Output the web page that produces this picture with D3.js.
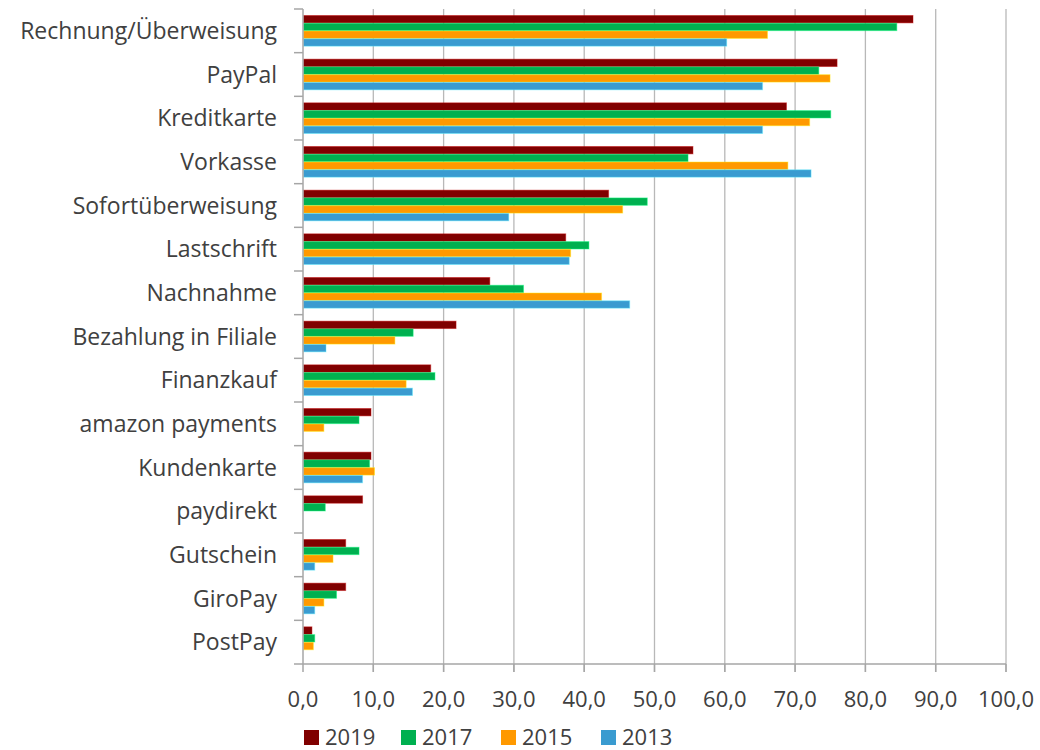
<!DOCTYPE html>
<html lang="de">
<head>
  <meta charset="UTF-8">
  <title>Zahlungsarten</title>
  <script src="https://d3js.org/d3.v7.min.js"></script>
  <style>
    body {
      margin: 0;
      background: white;
      font-family: "Open Sans", sans-serif;
    }
    .cat-label {
      font-size: 23px;
      fill: #404040;
    }
    .tick-label {
      font-size: 22px;
      fill: #404040;
    }
    .legend text {
      font-size: 22px;
      fill: #404040;
    }
  </style>
</head>
<body>
  <div id="chart"></div>

  <script>
    // Daten
    const categories = [
      "Rechnung/Überweisung", "PayPal", "Kreditkarte", "Vorkasse", "Sofortüberweisung",
      "Lastschrift", "Nachnahme", "Bezahlung in Filiale", "Finanzkauf", "amazon payments",
      "Kundenkarte", "paydirekt", "Gutschein", "GiroPay", "PostPay"
    ];
    const years = ["2019", "2017", "2015", "2013"];
    const values2019 = [86.7, 75.9, 68.7, 55.4, 43.4, 37.3, 26.5, 21.7, 18.1, 9.6, 9.6, 8.4, 6.0, 6.0, 1.2];
    const values2017 = [84.4, 73.3, 75.0, 54.7, 48.9, 40.6, 31.3, 15.6, 18.7, 7.9, 9.4, 3.1, 7.9, 4.7, 1.6];
    const values2015 = [66.0, 74.9, 72.0, 68.9, 45.4, 38.0, 42.4, 13.0, 14.6, 2.9, 10.1, null, 4.2, 2.9, 1.4];
    const values2013 = [60.2, 65.3, 65.3, 72.2, 29.2, 37.8, 46.4, 3.2, 15.5, null, 8.4, null, 1.6, 1.6, null];
    const xTicks = [0, 10, 20, 30, 40, 50, 60, 70, 80, 90, 100];

    const seriesValues = { "2019": values2019, "2017": values2017, "2015": values2015, "2013": values2013 };
    const colors = { "2019": "#800000", "2017": "#00b050", "2015": "#ff9900", "2013": "#3a9bd0" };

    const width = 1040, height = 750;
    const plotLeft = 303, plotRight = 1006, plotTop = 9, plotBottom = 664;

    const svg = d3.select("#chart")
      .append("svg")
      .attr("width", width)
      .attr("height", height);

    const x = d3.scaleLinear().domain([0, 100]).range([plotLeft, plotRight]);
    const y0 = d3.scaleBand().domain(categories).range([plotTop, plotBottom])
      .paddingInner(0.28).paddingOuter(0.14);
    const y1 = d3.scaleBand().domain(years).range([0, y0.bandwidth()]).padding(0.05);

    const de = d3.formatLocale({ decimal: ",", thousands: ".", grouping: [3], currency: ["", " €"] });
    const fmt = de.format(".1f");

    // Gitternetz
    svg.append("g")
      .selectAll("line")
      .data(xTicks.slice(1))
      .join("line")
      .attr("x1", d => x(d)).attr("x2", d => x(d))
      .attr("y1", plotTop).attr("y2", plotBottom + 8)
      .attr("stroke", "#b8b8b8")
      .attr("stroke-width", 1.3);

    // Balken
    years.forEach(yr => {
      svg.append("g")
        .selectAll("rect")
        .data(categories.map((c, i) => ({ cat: c, v: seriesValues[yr][i] })).filter(d => d.v != null))
        .join("rect")
        .attr("x", x(0) + 0.5)
        .attr("y", d => y0(d.cat) + y1(yr))
        .attr("width", d => x(d.v) - x(0))
        .attr("height", y1.bandwidth())
        .attr("fill", colors[yr])
        .attr("stroke", d3.color(colors[yr]).brighter(1.2))
        .attr("stroke-opacity", 0.45)
        .attr("stroke-width", 1);
    });

    // Y-Achse
    const boundaries = categories.map(c => y0(c) - y0.step() * y0.paddingInner() / 2);
    svg.append("line")
      .attr("x1", plotLeft).attr("x2", plotLeft)
      .attr("y1", plotTop).attr("y2", plotBottom)
      .attr("stroke", "#a6a6a6").attr("stroke-width", 1.5);
    svg.append("g")
      .selectAll("line")
      .data(boundaries)
      .join("line")
      .attr("x1", plotLeft - 9).attr("x2", plotLeft)
      .attr("y1", d => d).attr("y2", d => d)
      .attr("stroke", "#a6a6a6").attr("stroke-width", 1.5);

    svg.append("g")
      .selectAll("text")
      .data(categories)
      .join("text")
      .attr("class", "cat-label")
      .attr("x", 277)
      .attr("y", d => y0(d) + y0.bandwidth() / 2)
      .attr("dy", "0.35em")
      .attr("text-anchor", "end")
      .text(d => d);

    // X-Achse
    svg.append("line")
      .attr("x1", plotLeft - 9).attr("x2", plotRight)
      .attr("y1", plotBottom).attr("y2", plotBottom)
      .attr("stroke", "#a6a6a6").attr("stroke-width", 1.5);
    svg.append("g")
      .selectAll("line")
      .data(xTicks)
      .join("line")
      .attr("x1", d => x(d)).attr("x2", d => x(d))
      .attr("y1", plotBottom).attr("y2", plotBottom + 8)
      .attr("stroke", "#a6a6a6").attr("stroke-width", 1.5);
    svg.append("g")
      .selectAll("text")
      .data(xTicks)
      .join("text")
      .attr("class", "tick-label")
      .attr("x", d => x(d))
      .attr("y", 699)
      .attr("dy", "0.35em")
      .attr("text-anchor", "middle")
      .text(d => fmt(d));

    // Legende
    const legendX = [304, 401, 501, 601];
    const legend = svg.append("g").attr("class", "legend");
    years.forEach((yr, i) => {
      legend.append("rect")
        .attr("x", legendX[i]).attr("y", 730)
        .attr("width", 15).attr("height", 15)
        .attr("fill", colors[yr]);
      legend.append("text")
        .attr("x", legendX[i] + 21)
        .attr("y", 737)
        .attr("dy", "0.35em")
        .text(yr);
    });
  </script>
</body>
</html>
